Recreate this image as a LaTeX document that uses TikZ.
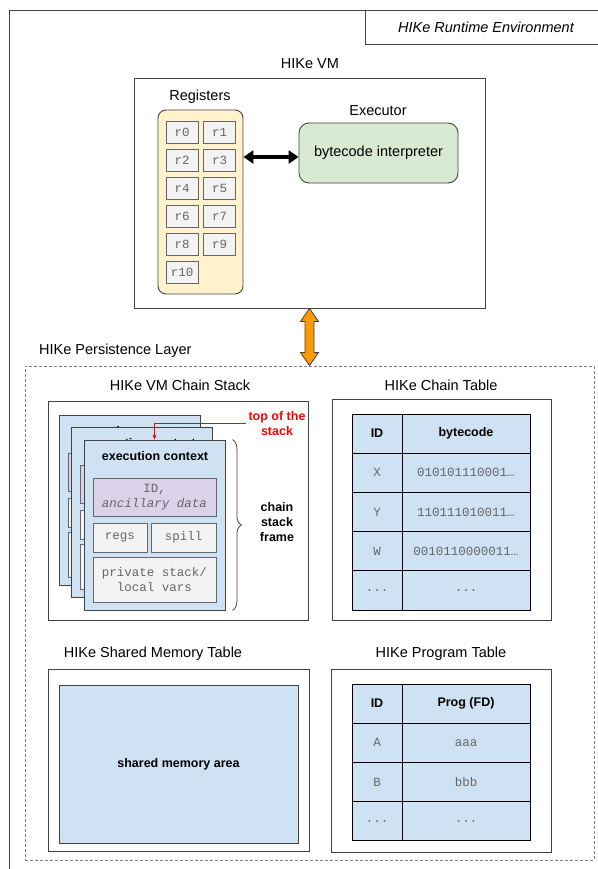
\documentclass[tikz,border=0pt]{standalone}
\usepackage{fontspec}
\setmainfont{Liberation Sans}
\setmonofont{Liberation Mono}
\usetikzlibrary{arrows.meta}
\usetikzlibrary{calc}
\usetikzlibrary{decorations.pathreplacing}
\definecolor{boxgray}{HTML}{434343}
\definecolor{cellgray}{HTML}{F3F3F3}
\definecolor{codegray}{HTML}{666666}
\definecolor{regyellow}{HTML}{FFF2CC}
\definecolor{execgreen}{HTML}{D9EAD3}
\definecolor{tabblue}{HTML}{CFE2F3}
\definecolor{idpurple}{HTML}{D9D2E9}
\definecolor{linkorange}{HTML}{FF9900}
\newcommand{\lblfont}{\fontsize{14.5}{17}\selectfont}
\newcommand{\hdfont}{\fontsize{12.5}{15}\selectfont\bfseries}
\newcommand{\codefont}{\fontsize{12.5}{15.5}\selectfont\ttfamily}
\newcommand{\tdots}{...}
\tikzset{frame/.style={rectangle, draw=boxgray, fill=white, line width=0.9pt, inner sep=0pt}}
\tikzset{lbl/.style={font=\lblfont, inner sep=1pt}}
\tikzset{hdlbl/.style={font=\hdfont, inner sep=1pt, align=center}}
\tikzset{codebox/.style={rectangle, draw=codegray, fill=cellgray, text=codegray, font=\codefont,
      line width=0.8pt, inner sep=0pt, align=center}}
\tikzset{regcell/.style={codebox, minimum width=32pt, minimum height=22pt}}
\tikzset{tabcell/.style={rectangle, draw=black, fill=tabblue, line width=0.8pt, inner sep=0pt,
      minimum height=39.2pt}}
\tikzset{card/.style={rectangle, draw=boxgray, fill=tabblue, line width=0.8pt,
      minimum width=141pt, minimum height=170pt, inner sep=0pt}}
\tikzset{regarrow/.style={{Triangle[length=10pt,width=13pt]}-{Triangle[length=10pt,width=13pt]},
      line width=3.8pt}}
\tikzset{linkarrow/.style={draw=boxgray, fill=linkorange, line width=0.8pt, line join=miter}}
\tikzset{redarrow/.style={draw=red, line width=0.8pt, -{Stealth[length=5pt,width=4pt]}}}

\begin{document}
\begin{tikzpicture}[x=1pt,y=-1pt]
		\useasboundingbox (0,0) rectangle (597,869);
		\node[frame, anchor=north west, minimum width=620pt, minimum height=880pt] (env) at (9,10) {};
		\node[frame, anchor=north west, minimum width=260pt, minimum height=34pt] (envlbl) at (365,10) {};
		\node[lbl, font=\lblfont\itshape] at (486,27) {HIKe Runtime Environment};
		\node[lbl] (vmlbl) at (310,64) {HIKe VM};
		\node[frame, minimum width=351pt, minimum height=230pt] (vm) at (309.5,193) {};
		\node[lbl] (reglbl) at (200,97) {Registers};
		\node[frame, fill=regyellow, rounded corners=8pt, minimum width=85pt, minimum height=184pt] (regs) at (200.5,202) {};
		\foreach \i in {0,...,10}
			\node[regcell] (r\i) at ({182+37.5*mod(\i,2)},{132+28*int(\i/2)}) {r\i};
		\node[lbl] (execlbl) at (378,111) {Executor};
		\node[frame, fill=execgreen, rounded corners=10pt, minimum width=159pt, minimum height=60pt,
			font=\lblfont] (exec) at (378.5,153) {bytecode interpreter};
		\draw[regarrow] ([yshift=-4pt]regs.east |- exec.west) -- ([yshift=-4pt]exec.west);
		\node[lbl, anchor=west] (pllbl) at (38,351) {HIKe Persistence Layer};
		\node[rectangle, draw=gray, dash pattern=on 3pt off 2pt, line width=0.8pt, inner sep=0pt,
			minimum width=569pt, minimum height=494pt] (pl) at (309.5,613) {};
		\draw[linkarrow] (vm.south) -- ++(9,13) -- ++(-4.5,0) -- ($(pl.north)+(4.5,-13)$) -- ++(4.5,0)
			-- (pl.north) -- ++(-9,-13) -- ++(4.5,0) -- ($(vm.south)+(-4.5,13)$) -- ++(-4.5,0) -- cycle;
		\node[lbl] (cslbl) at (180,385) {HIKe VM Chain Stack};
		\node[frame, minimum width=260pt, minimum height=219pt] (cs) at (178,510.5) {};
		\foreach \dx/\n in {0/2,12.5/1,25/0}{
			\begin{scope}[shift={(59+\dx,415+\dx)}]
				\node[card] (card\n) at (70.5,85) {};
				\node[hdlbl] (ctx\n) at (71,16) {execution context};
				\node[codebox, fill=idpurple, minimum width=123pt, minimum height=38pt] (id\n) at (70.5,57)
					{ID,\\\textit{ancillary data}};
				\node[codebox, minimum width=54pt, minimum height=29pt] (regs\n) at (36,97.5) {regs};
				\node[codebox, minimum width=65pt, minimum height=29pt] (spill\n) at (99.5,97.5) {spill};
				\node[codebox, minimum width=123pt, minimum height=45pt] (priv\n) at (70.5,139.5)
					{private stack/\\local vars};
			\end{scope}}
		\node[hdlbl, text=red, inner sep=2pt] (toplbl) at (277,423.5) {top of the\\stack};
		\draw[redarrow] (toplbl.west) -| (card0.north);
		\draw[decorate, decoration={brace, amplitude=9pt}, draw=boxgray, line width=0.8pt]
			($(card0.north east)+(7,0)$) -- ($(card0.south east)+(7,0)$);
		\node[hdlbl] (framelbl) at (277,522) {chain\\stack\\frame};
		\node[lbl] (ctlbl) at (441,385) {HIKe Chain Table};
		\node[frame, minimum width=219pt, minimum height=221pt] (ct) at (441.5,509.5) {};
		\node[tabcell, minimum width=50pt, font=\hdfont] (ct-0-1) at (377,433.6) {ID};
		\node[tabcell, minimum width=128pt, font=\hdfont] (ct-0-2) at (466,433.6) {bytecode};
		\foreach \a/\b [count=\r] in {X/010101110001…,Y/110111010011…,W/0010110000011…,\tdots/\tdots}{
			\node[tabcell, minimum width=50pt, font=\codefont, text=codegray] (ct-\r-1) at (377,{433.6+39.2*\r}) {\a};
			\node[tabcell, minimum width=128pt, font=\codefont, text=codegray] (ct-\r-2) at (466,{433.6+39.2*\r}) {\b};}
		\node[lbl] (smlbl) at (153,654) {HIKe Shared Memory Table};
		\node[frame, minimum width=261pt, minimum height=182pt] (sm) at (178.5,760) {};
		\node[tabcell, draw=boxgray, minimum width=239pt, minimum height=158pt, font=\hdfont] (smarea) at (178.5,764)
			{shared memory area};
		\node[lbl] (ptlbl) at (441,654) {HIKe Program Table};
		\node[frame, minimum width=220pt, minimum height=183pt] (pt) at (441,760.5) {};
		\node[tabcell, minimum width=50pt, font=\hdfont] (pt-0-1) at (377,703.6) {ID};
		\node[tabcell, minimum width=128pt, font=\hdfont] (pt-0-2) at (466,703.6) {Prog (FD)};
		\foreach \a/\b [count=\r] in {A/aaa,B/bbb,\tdots/\tdots}{
			\node[tabcell, minimum width=50pt, font=\codefont, text=codegray] (pt-\r-1) at (377,{703.6+39.2*\r}) {\a};
			\node[tabcell, minimum width=128pt, font=\codefont, text=codegray] (pt-\r-2) at (466,{703.6+39.2*\r}) {\b};}
		\end{tikzpicture}
\end{document}
